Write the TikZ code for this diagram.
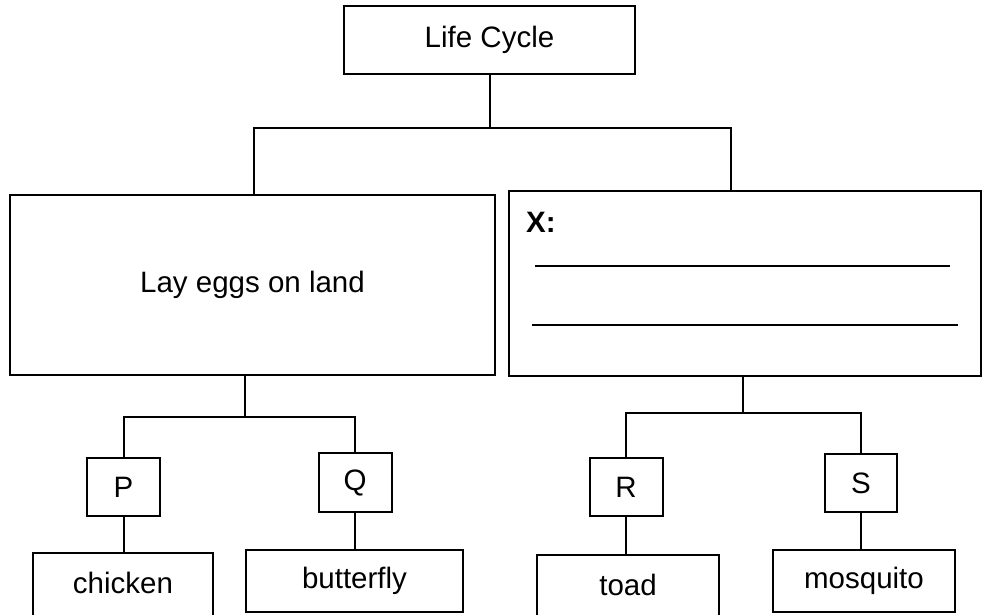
\documentclass[tikz,border=0pt]{standalone}
\usepackage{fontspec}
\setmainfont{Liberation Sans}
\begin{document}
\begin{tikzpicture}[x=1pt,y=-1pt,
  every node/.style={font=\fontsize{29.5}{35}\selectfont},
  box/.style={draw, line width=2pt, rectangle, inner sep=0pt},
  cutbox/.style={box, text depth=17pt},
  link/.style={line width=2pt}]
\useasboundingbox (0,0) rectangle (984,614);
\clip (0,0) rectangle (984,614);
% top
\node[box, minimum width=291pt, minimum height=68pt] (life) at (489.5,40) {Life Cycle};
\node[box, minimum width=485pt, minimum height=180pt] (left) at (252.5,285) {Lay eggs on land};
\node[box, minimum width=472pt, minimum height=185pt] (right) at (745,283.5) {};
\node[anchor=west, inner sep=0pt, font=\fontsize{29.5}{35}\selectfont\bfseries] (xlab) at (526,222) {X:};
\draw[line width=2.6pt] (535,266) -- (950,266);
\draw[line width=2.6pt] (532,325) -- (958,325);
% second level
\node[box, minimum width=73pt, minimum height=58pt] (P) at (123.5,487) {P};
\node[box, minimum width=73pt, minimum height=59pt] (Q) at (355,482.5) {Q};
\node[box, minimum width=73pt, minimum height=58pt] (R) at (626,487) {R};
\node[box, minimum width=72pt, minimum height=58pt] (S) at (861,483) {S};
% leaves
\node[cutbox, minimum width=180pt, minimum height=77pt] (chicken) at (123,591.5) {chicken};
\node[box, minimum width=217pt, minimum height=62pt] (butterfly) at (354.5,581) {butterfly};
\node[cutbox, minimum width=182pt, minimum height=77pt] (toad) at (628,593.5) {toad};
\node[box, minimum width=182pt, minimum height=62pt] (mosquito) at (864,581) {mosquito};
% junctions
\coordinate (jt) at (489.5,128);
\coordinate (jl) at (254,128);
\coordinate (jr) at (731,128);
\coordinate (bl) at (245,417);
\coordinate (br) at (743,413);
% connectors
\draw[link] (life.south) -- (jt);
\draw[link] (left.north -| jl) -- (jl) -- (jr) -- (right.north -| jr);
\draw[link] (left.south -| bl) -- (bl);
\draw[link] (P.north) |- (bl) -| (Q.north);
\draw[link] (right.south -| br) -- (br);
\draw[link] (R.north) |- (br) -| (S.north);
\draw[link] (P.south) -- (P.south |- chicken.north);
\draw[link] (Q.south) -- (Q.south |- butterfly.north);
\draw[link] (R.south) -- (R.south |- toad.north);
\draw[link] (S.south) -- (S.south |- mosquito.north);
\end{tikzpicture}
\end{document}
